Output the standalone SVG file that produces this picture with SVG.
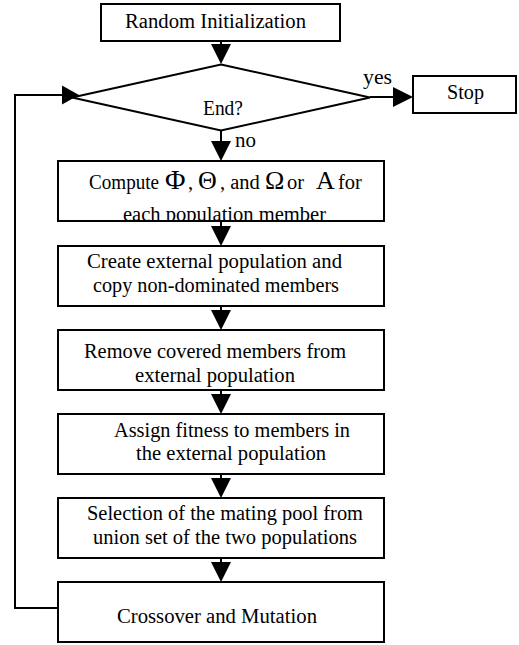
<svg xmlns="http://www.w3.org/2000/svg" width="519" height="645" viewBox="0 0 519 645" font-family="Liberation Serif, Times New Roman, serif">
<style>
  .box { fill: #ffffff; stroke: #000000; stroke-width: 2; }
  .ln { fill: none; stroke: #000000; stroke-width: 2; }
  .ah { fill: #000000; stroke: none; }
  text { font-family: 'Liberation Serif', 'Times New Roman', serif; font-size: 20.5px; fill: #000000; }
  .g { font-size: 26px; }
</style>
<defs>
  <clipPath id="clipCompute"><rect x="58" y="161" width="326" height="59"/></clipPath>
</defs>
<rect width="519" height="645" fill="#ffffff"/>

<g id="connectors">
  <line class="ln" x1="221" y1="41" x2="221" y2="46"/>
  <polygon class="ah" points="211,44 231,44 221,64"/>
  <line class="ln" x1="370" y1="97" x2="395" y2="97"/>
  <polygon class="ah" points="393,87 393,107 413,97"/>
  <line class="ln" x1="221" y1="131" x2="221" y2="143"/>
  <polygon class="ah" points="211,141 231,141 221,161"/>
  <line class="ln" x1="221" y1="221" x2="221" y2="228"/>
  <polygon class="ah" points="211,226 231,226 221,246"/>
  <line class="ln" x1="221" y1="306" x2="221" y2="312"/>
  <polygon class="ah" points="211,310 231,310 221,330"/>
  <line class="ln" x1="221" y1="390" x2="221" y2="396"/>
  <polygon class="ah" points="211,394 231,394 221,414"/>
  <line class="ln" x1="221" y1="474" x2="221" y2="480"/>
  <polygon class="ah" points="211,478 231,478 221,498"/>
  <line class="ln" x1="221" y1="558" x2="221" y2="564"/>
  <polygon class="ah" points="211,562 231,562 221,582"/>
  <polyline class="ln" points="58,608 15,608 15,95 64,95"/>
  <polygon class="ah" points="62,85.5 62,104.5 79,95"/>
</g>

<g id="node-random">
  <rect class="box" x="101" y="4" width="239" height="37"/>
  <text x="125" y="28" textLength="181" lengthAdjust="spacingAndGlyphs">Random Initialization</text>
</g>

<g id="node-end">
  <polygon class="ln" points="221,64.5 370,97.5 221,130.5 72,97.5" style="fill:#ffffff"/>
  <text x="203" y="115" textLength="40" lengthAdjust="spacingAndGlyphs">End?</text>
  <text x="363" y="84" textLength="29" lengthAdjust="spacingAndGlyphs">yes</text>
  <text x="235" y="147" textLength="21" lengthAdjust="spacingAndGlyphs">no</text>
</g>

<g id="node-stop">
  <rect class="box" x="413" y="76" width="103" height="37"/>
  <text x="447" y="99" textLength="37" lengthAdjust="spacingAndGlyphs">Stop</text>
</g>

<g id="node-compute">
  <rect class="box" x="58" y="161" width="326" height="60"/>
  <text y="189"><tspan x="89" textLength="70" lengthAdjust="spacingAndGlyphs">Compute</tspan><tspan class="g" x="165" style="font-size:28px">Φ</tspan><tspan x="188">,</tspan><tspan class="g" x="198">Θ</tspan><tspan x="220">, and</tspan><tspan class="g" x="265">Ω</tspan><tspan x="287">or</tspan><tspan class="g" x="316">A</tspan><tspan x="338">for</tspan></text>
  <g clip-path="url(#clipCompute)">
    <text x="123" y="221" textLength="203" lengthAdjust="spacingAndGlyphs">each population member</text>
  </g>
</g>

<g id="node-create">
  <rect class="box" x="58" y="246" width="326" height="60"/>
  <text x="87" y="268" textLength="255" lengthAdjust="spacingAndGlyphs">Create external population and</text>
  <text x="93" y="292" textLength="246" lengthAdjust="spacingAndGlyphs">copy non-dominated members</text>
</g>

<g id="node-remove">
  <rect class="box" x="58" y="330" width="326" height="60"/>
  <text x="84" y="358" textLength="262" lengthAdjust="spacingAndGlyphs">Remove covered members from</text>
  <text x="135" y="382" textLength="160" lengthAdjust="spacingAndGlyphs">external population</text>
</g>

<g id="node-assign">
  <rect class="box" x="58" y="414" width="326" height="60"/>
  <text x="114" y="437" textLength="236" lengthAdjust="spacingAndGlyphs">Assign fitness to members in</text>
  <text x="136" y="460" textLength="190" lengthAdjust="spacingAndGlyphs">the external population</text>
</g>

<g id="node-selection">
  <rect class="box" x="58" y="498" width="326" height="60"/>
  <text x="87" y="520" textLength="276" lengthAdjust="spacingAndGlyphs">Selection of the mating pool from</text>
  <text x="93" y="544" textLength="264" lengthAdjust="spacingAndGlyphs">union set of the two populations</text>
</g>

<g id="node-crossover">
  <rect class="box" x="58" y="582" width="326" height="60"/>
  <text x="117" y="623" textLength="200" lengthAdjust="spacingAndGlyphs">Crossover and Mutation</text>
</g>
</svg>
